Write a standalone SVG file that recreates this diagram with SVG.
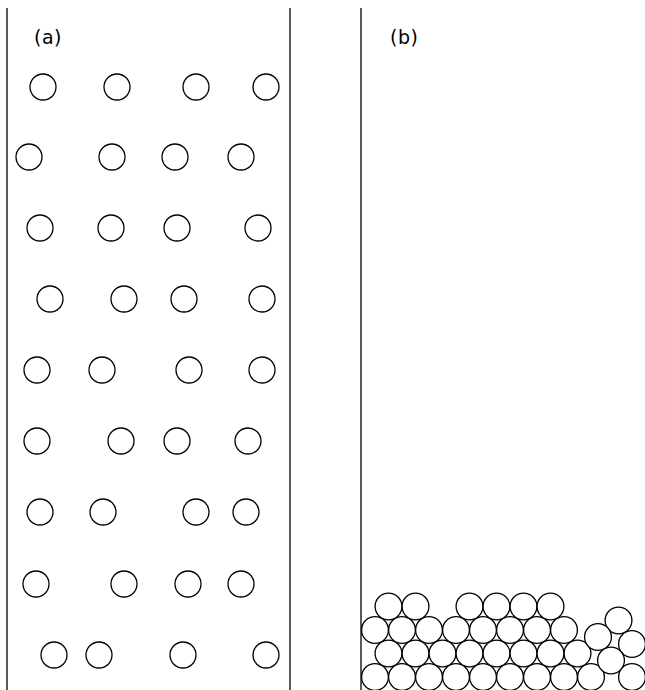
<svg xmlns="http://www.w3.org/2000/svg" width="645" height="690" viewBox="0 0 645 690">
<style>
.wall{stroke:#000;stroke-width:1.3;fill:none}
.p{fill:#fff;stroke:#000;stroke-width:1.3}
.lbl{font-family:"DejaVu Sans",sans-serif;font-size:19px;fill:#000;letter-spacing:0.5px}
</style>
<rect width="645" height="690" fill="#fff"/>
<g id="walls">
<line class="wall" x1="7" y1="8" x2="7" y2="690"/>
<line class="wall" x1="290" y1="8" x2="290" y2="690"/>
<line class="wall" x1="361" y1="8" x2="361" y2="690"/>
</g>
<g id="labels">
<text class="lbl" x="34" y="44">(a)</text>
<text class="lbl" x="390" y="44">(b)</text>
</g>
<g id="panel-a">
<circle class="p" cx="43" cy="87" r="13"/><circle class="p" cx="117" cy="87" r="13"/><circle class="p" cx="196" cy="87" r="13"/><circle class="p" cx="266" cy="87" r="13"/>
<circle class="p" cx="29" cy="157" r="13"/><circle class="p" cx="112" cy="157" r="13"/><circle class="p" cx="175" cy="157" r="13"/><circle class="p" cx="241" cy="157" r="13"/>
<circle class="p" cx="40" cy="228" r="13"/><circle class="p" cx="111" cy="228" r="13"/><circle class="p" cx="177" cy="228" r="13"/><circle class="p" cx="258" cy="228" r="13"/>
<circle class="p" cx="50" cy="299" r="13"/><circle class="p" cx="124" cy="299" r="13"/><circle class="p" cx="184" cy="299" r="13"/><circle class="p" cx="262" cy="299" r="13"/>
<circle class="p" cx="37" cy="370" r="13"/><circle class="p" cx="102" cy="370" r="13"/><circle class="p" cx="189" cy="370" r="13"/><circle class="p" cx="262" cy="370" r="13"/>
<circle class="p" cx="37" cy="441" r="13"/><circle class="p" cx="121" cy="441" r="13"/><circle class="p" cx="177" cy="441" r="13"/><circle class="p" cx="248" cy="441" r="13"/>
<circle class="p" cx="40" cy="512" r="13"/><circle class="p" cx="103" cy="512" r="13"/><circle class="p" cx="196" cy="512" r="13"/><circle class="p" cx="246" cy="512" r="13"/>
<circle class="p" cx="36" cy="584" r="13"/><circle class="p" cx="124" cy="584" r="13"/><circle class="p" cx="188" cy="584" r="13"/><circle class="p" cx="241" cy="584" r="13"/>
<circle class="p" cx="54" cy="655" r="13"/><circle class="p" cx="99" cy="655" r="13"/><circle class="p" cx="183" cy="655" r="13"/><circle class="p" cx="266" cy="655" r="13"/>
</g>
<g id="panel-b">
<circle class="p" cx="375" cy="677" r="13.4"/><circle class="p" cx="402" cy="677" r="13.4"/><circle class="p" cx="429" cy="677" r="13.4"/><circle class="p" cx="456" cy="677" r="13.4"/><circle class="p" cx="483" cy="677" r="13.4"/><circle class="p" cx="510" cy="677" r="13.4"/><circle class="p" cx="537" cy="677" r="13.4"/><circle class="p" cx="564" cy="677" r="13.4"/><circle class="p" cx="591" cy="677" r="13.4"/>
<circle class="p" cx="388.5" cy="653.5" r="13.4"/><circle class="p" cx="415.5" cy="653.5" r="13.4"/><circle class="p" cx="442.5" cy="653.5" r="13.4"/><circle class="p" cx="469.5" cy="653.5" r="13.4"/><circle class="p" cx="496.5" cy="653.5" r="13.4"/><circle class="p" cx="523.5" cy="653.5" r="13.4"/><circle class="p" cx="550.5" cy="653.5" r="13.4"/><circle class="p" cx="577.5" cy="653.5" r="13.4"/>
<circle class="p" cx="375" cy="630" r="13.4"/><circle class="p" cx="402" cy="630" r="13.4"/><circle class="p" cx="429" cy="630" r="13.4"/><circle class="p" cx="456" cy="630" r="13.4"/><circle class="p" cx="483" cy="630" r="13.4"/><circle class="p" cx="510" cy="630" r="13.4"/><circle class="p" cx="537" cy="630" r="13.4"/><circle class="p" cx="564" cy="630" r="13.4"/>
<circle class="p" cx="388.5" cy="606.5" r="13.4"/><circle class="p" cx="415.5" cy="606.5" r="13.4"/><circle class="p" cx="469.5" cy="606.5" r="13.4"/><circle class="p" cx="496.5" cy="606.5" r="13.4"/><circle class="p" cx="523.5" cy="606.5" r="13.4"/><circle class="p" cx="550.5" cy="606.5" r="13.4"/>
<circle class="p" cx="618.5" cy="620.5" r="13.4"/><circle class="p" cx="598" cy="637" r="13.4"/><circle class="p" cx="632" cy="644" r="13.4"/><circle class="p" cx="611" cy="660.5" r="13.4"/><circle class="p" cx="632" cy="677" r="13.4"/>
</g>
</svg>
